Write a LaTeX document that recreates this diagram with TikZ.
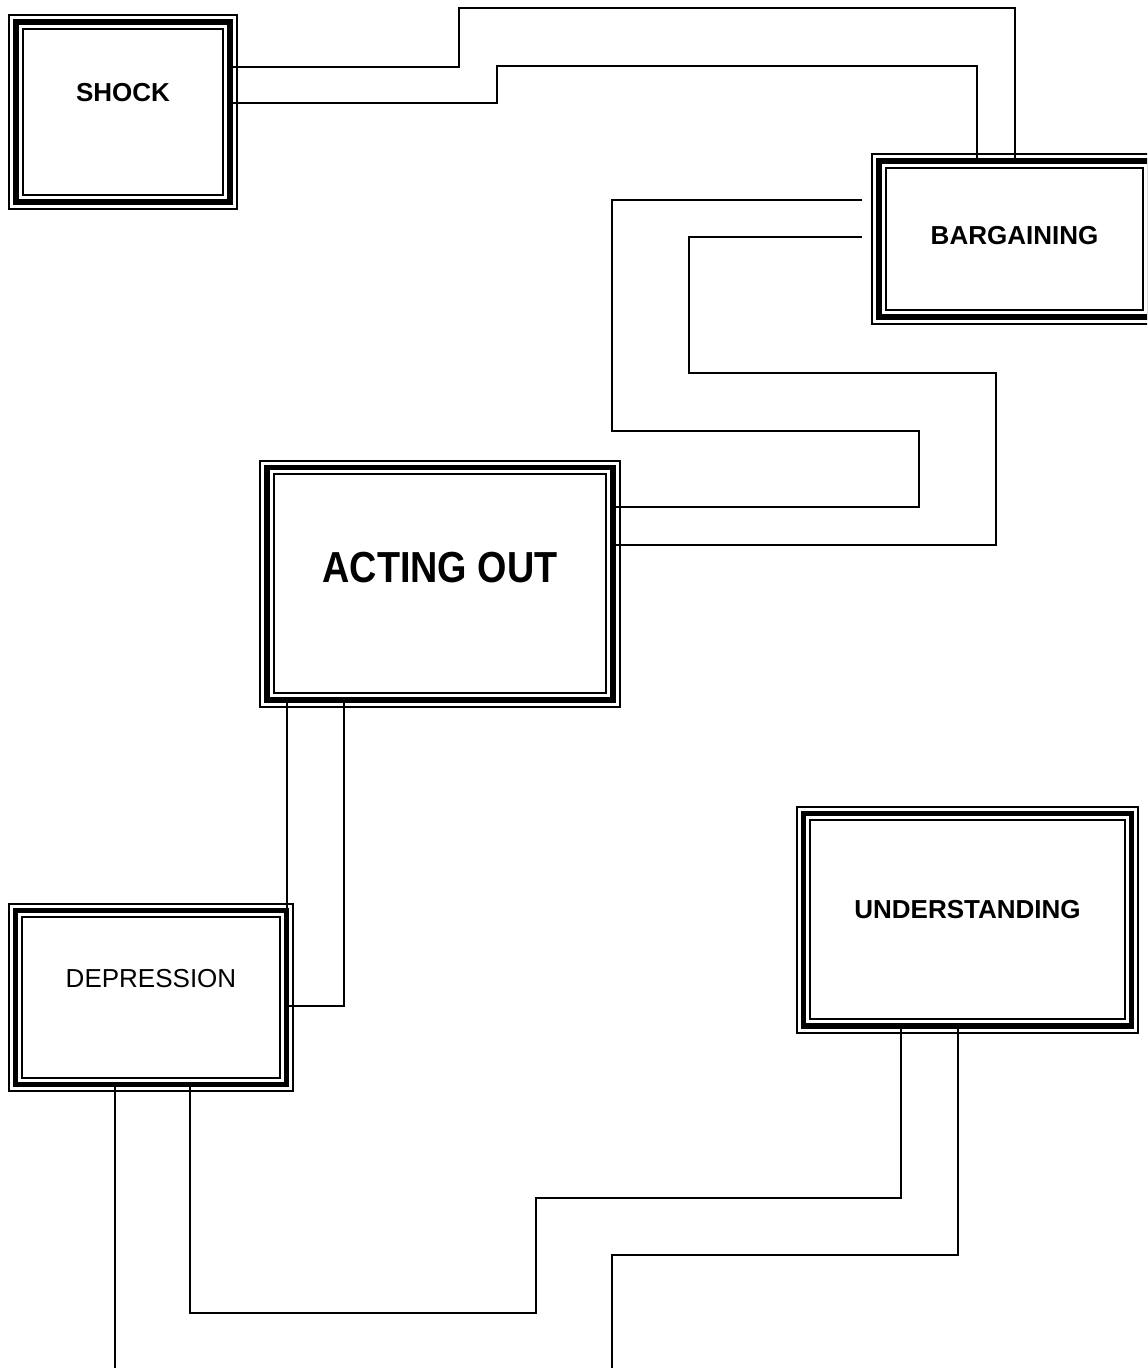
\documentclass[tikz,border=0pt]{standalone}
\usepackage{fontspec}
\setmainfont{Liberation Sans}
\usetikzlibrary{calc}
\tikzset{
  stagebox/.style={draw=black,line width=3.1pt,inner sep=0pt,
                   align=center,font=\bfseries\fontsize{14.8pt}{17pt}\selectfont},
  outerline/.style={draw=black,line width=1pt},
  innerline/.style={draw=black,line width=1.1pt},
  wire/.style={draw=black,line width=0.75pt}
}
\begin{document}
\begin{tikzpicture}[x=0.02cm,y=-0.02cm]
    \path[use as bounding box] (0,0) rectangle (1147,1368);
    \clip (0,0) rectangle (1147,1368);
    % the five stages
    \node[stagebox,minimum width=4.28cm,minimum height=3.6cm,text depth=0.8cm]
      (shock) at (123,112) {SHOCK};
    \node[stagebox,minimum width=5.42cm,minimum height=3.12cm,text depth=0.16cm]
      (bargain) at (1014.5,239) {BARGAINING};
    \node[stagebox,minimum width=6.92cm,minimum height=4.65cm,text depth=0.64cm,
          font=\bfseries\fontsize{21.5pt}{24pt}\selectfont]
      (acting) at (440,583.75) {\scalebox{1}[1.15]{ACTING OUT}};
    \node[stagebox,minimum width=5.42cm,minimum height=3.48cm,text depth=0.78cm,
          font=\fontsize{14.8pt}{17pt}\selectfont]
      (depress) at (151,997.5) {DEPRESSION};
    \node[stagebox,minimum width=6.56cm,minimum height=4.25cm,text depth=0.4cm]
      (under) at (967.5,919.75) {UNDERSTANDING};
    \foreach \n in {shock,bargain,acting,depress,under}{
      \draw[outerline] ($(\n.south west)+(-2.3pt,-2.3pt)$) rectangle ($(\n.north east)+(2.3pt,2.3pt)$);
      \draw[innerline] ($(\n.south west)+(5.4pt,5.4pt)$) rectangle ($(\n.north east)+(-5.4pt,-5.4pt)$);
    }
    % loose ends at the bottom edge
    \coordinate (endA) at (115,1368);
    \coordinate (endC) at (612,1368);
    % connectors
    \draw[wire] (shock.east |- 0,67) -| (459,8) -| (bargain.north -| 1015,0);
    \draw[wire] (shock.east |- 0,103) -| (497,66) -| (bargain.north -| 977,0);
    \draw[wire,shorten <=8pt] (bargain.west |- 0,200) -| (612,431) -| (919,507)
      -- (acting.east |- 0,507);
    \draw[wire,shorten <=8pt] (bargain.west |- 0,237) -| (689,373) -| (996,545)
      -- (acting.east |- 0,545);
    \draw[wire] (acting.south -| 287,0) -- (depress.north -| 287,0);
    \draw[wire] (acting.south -| 344,0) |- (depress.east |- 0,1006);
    \draw[wire] (depress.south -| 115,0) -- (endA);
    \draw[wire] (depress.south -| 190,0) |- (536,1313) |- (901,1198)
      -- (under.south -| 901,0);
    \draw[wire] (under.south -| 958,0) |- (612,1255) -- (endC);
  \end{tikzpicture}
\end{document}
